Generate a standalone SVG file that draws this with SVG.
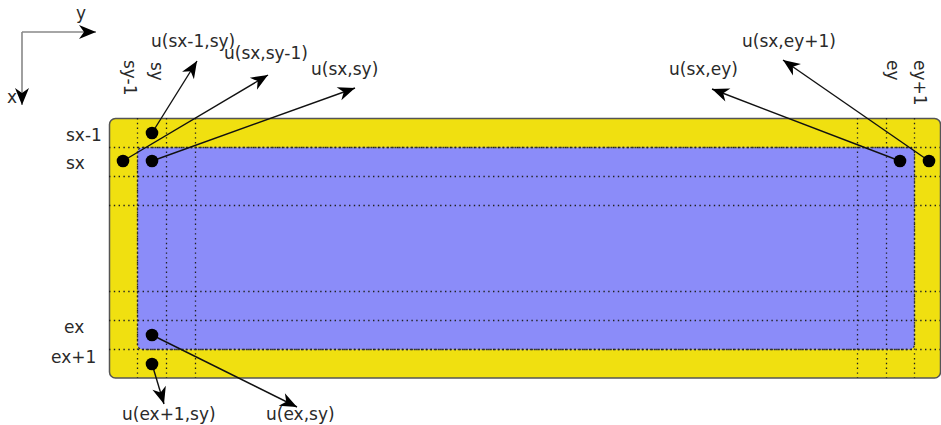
<svg xmlns="http://www.w3.org/2000/svg" width="941" height="425" viewBox="0 0 941 425">
<style>
text{font-family:"DejaVu Sans",sans-serif;font-size:17px;fill:#2a2a2a}
.grid{stroke:#222;stroke-width:1.3;stroke-dasharray:1.4 3.4;fill:none}
.arr{stroke:#111;stroke-width:1.4;fill:none;marker-end:url(#ah)}
.axis{stroke:#888;stroke-width:1.6;fill:none;marker-end:url(#ah)}
.dot{fill:#000}
</style>
<defs>
<marker id="ah" markerUnits="userSpaceOnUse" viewBox="-18 -8 19 16" refX="0" refY="0" markerWidth="19" markerHeight="16" orient="auto">
<path d="M0,0 L-17,-7 L-12,0 L-17,7 Z" fill="#000"/>
</marker>
</defs>
<g id="axes">
<path class="axis" d="M22,32 H96"/>
<path class="axis" d="M22,32 V105"/>
<text x="76" y="19">y</text>
<text x="7" y="103">x</text>
</g>
<g id="domain">
<rect x="109.5" y="118.5" width="831" height="259.5" rx="6" fill="#f0e010" stroke="#555" stroke-width="1.5"/>
<rect x="137.5" y="147.5" width="777" height="202" rx="5" fill="#8b8cf9" stroke="#333" stroke-width="1.3" stroke-dasharray="2 2"/>
</g>
<g id="gridlines">
<path class="grid" d="M109,147.5 H940 M109,176.5 H940 M109,205.5 H940 M109,291.5 H940 M109,320.5 H940 M109,349.5 H940"/>
<path class="grid" d="M137.5,118 V378 M166.5,118 V378 M195.5,118 V378 M857.5,118 V378 M886.5,118 V378 M914.5,118 V378"/>
</g>
<g id="index-labels">
<text x="66" y="141">sx-1</text>
<text x="66" y="169">sx</text>
<text x="64" y="333">ex</text>
<text x="51" y="363">ex+1</text>
<text transform="translate(124,60) rotate(90)">sy-1</text>
<text transform="translate(151,62) rotate(90)">sy</text>
<text transform="translate(887,60) rotate(90)">ey</text>
<text transform="translate(914,60) rotate(90)">ey+1</text>
</g>
<g id="connectors">
<path class="arr" d="M152,133 L197,61"/>
<path class="arr" d="M123,161 L268,75"/>
<path class="arr" d="M152,161 L355,88"/>
<path class="arr" d="M900,161 L712,89"/>
<path class="arr" d="M929,161 L783,60"/>
<path class="arr" d="M152,364 L164,404"/>
<path class="arr" d="M152,335 L297,407"/>
</g>
<g id="n-sxm1-sy"><circle class="dot" cx="152" cy="133" r="6.3"/><text x="151" y="47">u(sx-1,sy)</text></g>
<g id="n-sx-sym1"><circle class="dot" cx="123" cy="161" r="6.3"/><text x="224" y="59">u(sx,sy-1)</text></g>
<g id="n-sx-sy"><circle class="dot" cx="152" cy="161" r="6.3"/><text x="311" y="75">u(sx,sy)</text></g>
<g id="n-sx-ey"><circle class="dot" cx="900" cy="161" r="6.3"/><text x="669" y="75">u(sx,ey)</text></g>
<g id="n-sx-eyp1"><circle class="dot" cx="929" cy="161" r="6.3"/><text x="742" y="47">u(sx,ey+1)</text></g>
<g id="n-ex-sy"><circle class="dot" cx="152" cy="335" r="6.3"/><text x="266" y="420">u(ex,sy)</text></g>
<g id="n-exp1-sy"><circle class="dot" cx="152" cy="364" r="6.3"/><text x="122" y="420">u(ex+1,sy)</text></g>
</svg>
